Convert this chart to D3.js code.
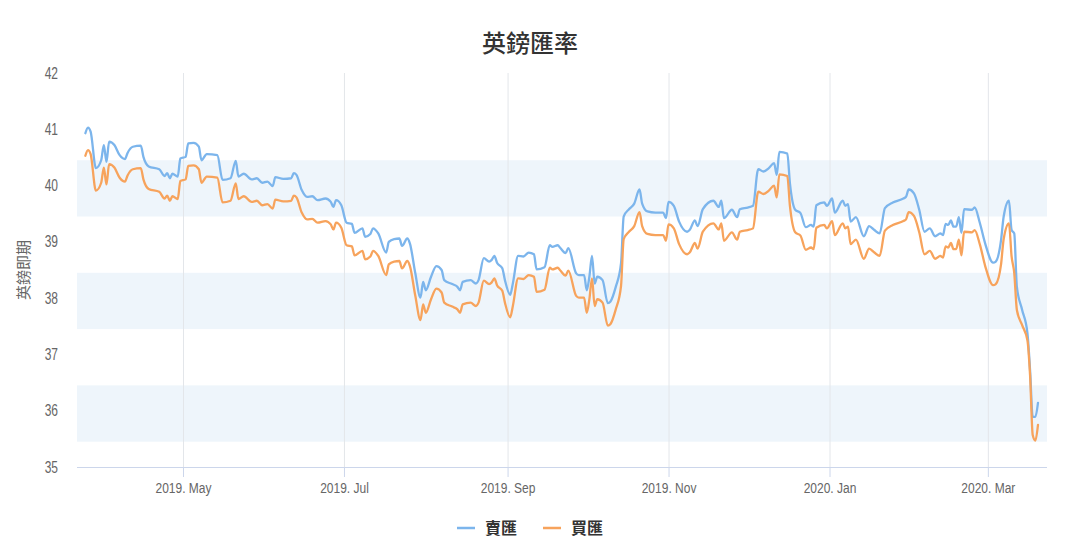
<!DOCTYPE html>
<html><head><meta charset="utf-8">
<script src="https://cdn.jsdelivr.net/npm/d3@7"></script>
<style>
body{margin:0;background:#fff}
svg{display:block}
.num{font-family:"Liberation Sans","Arial",sans-serif}
.cjk{font-family:"Noto Sans CJK TC","Noto Sans CJK SC",sans-serif}
</style>
</head><body>
<svg id="c" width="1065" height="556"></svg>
<script>
const title = "英鎊匯率";
const yTitle = "英鎊即期";
const seriesNames = ["賣匯", "買匯"];
const seriesColors = ["#7cb5ec", "#f7a35c"];

const dates = [
"2019-03-25","2019-03-26","2019-03-27","2019-03-29","2019-03-31","2019-04-01","2019-04-02","2019-04-03","2019-04-05","2019-04-07",
"2019-04-09","2019-04-10","2019-04-12","2019-04-15","2019-04-16","2019-04-18","2019-04-22","2019-04-24","2019-04-25","2019-04-26",
"2019-04-27","2019-04-29","2019-04-30","2019-05-02","2019-05-03","2019-05-05","2019-05-07","2019-05-08","2019-05-10","2019-05-14",
"2019-05-16","2019-05-19","2019-05-21","2019-05-22","2019-05-24","2019-05-27","2019-05-29","2019-05-31","2019-06-02","2019-06-04",
"2019-06-05","2019-06-08","2019-06-11","2019-06-12","2019-06-13","2019-06-15","2019-06-17","2019-06-19","2019-06-21","2019-06-24",
"2019-06-26","2019-06-27","2019-06-28","2019-06-30","2019-07-02","2019-07-04","2019-07-05","2019-07-08","2019-07-09","2019-07-11",
"2019-07-12","2019-07-14","2019-07-17","2019-07-18","2019-07-20","2019-07-22","2019-07-23","2019-07-25","2019-07-26","2019-07-28",
"2019-07-30","2019-07-31","2019-08-01","2019-08-03","2019-08-05","2019-08-07","2019-08-08","2019-08-11","2019-08-13","2019-08-14",
"2019-08-15","2019-08-18","2019-08-20","2019-08-21","2019-08-23","2019-08-25","2019-08-26","2019-08-27","2019-08-28","2019-08-30",
"2019-08-31","2019-09-02","2019-09-03","2019-09-05","2019-09-07","2019-09-09","2019-09-11","2019-09-12","2019-09-15","2019-09-17",
"2019-09-18","2019-09-20","2019-09-21","2019-09-23","2019-09-24","2019-09-27","2019-09-28","2019-09-30","2019-10-01","2019-10-02",
"2019-10-03","2019-10-04","2019-10-05","2019-10-07","2019-10-09","2019-10-10","2019-10-12","2019-10-14","2019-10-15","2019-10-17",
"2019-10-19","2019-10-21","2019-10-22","2019-10-24","2019-10-27","2019-10-30","2019-10-31","2019-11-01","2019-11-03","2019-11-05",
"2019-11-08","2019-11-09","2019-11-11","2019-11-12","2019-11-14","2019-11-18","2019-11-20","2019-11-21","2019-11-22","2019-11-25",
"2019-11-27","2019-11-28","2019-12-01","2019-12-03","2019-12-05","2019-12-07","2019-12-09","2019-12-11","2019-12-12","2019-12-13",
"2019-12-16","2019-12-17","2019-12-19","2019-12-21","2019-12-23","2019-12-25","2019-12-26","2019-12-27","2019-12-30","2019-12-31",
"2020-01-02","2020-01-03","2020-01-06","2020-01-07","2020-01-08","2020-01-09","2020-01-11","2020-01-14","2020-01-16","2020-01-18",
"2020-01-20","2020-01-22","2020-01-25","2020-01-29","2020-01-30","2020-01-31","2020-02-02","2020-02-04","2020-02-06","2020-02-08",
"2020-02-10","2020-02-12","2020-02-13","2020-02-14","2020-02-15","2020-02-16","2020-02-17","2020-02-18","2020-02-19","2020-02-20",
"2020-02-21","2020-02-24","2020-02-25","2020-02-27","2020-02-29","2020-03-03","2020-03-04","2020-03-06","2020-03-07","2020-03-09",
"2020-03-10","2020-03-11","2020-03-12","2020-03-14","2020-03-16","2020-03-17","2020-03-18","2020-03-19","2020-03-20"
];

const sellRates = [
40.93,41.03,40.96,40.31,40.45,40.72,40.42,40.78,40.72,40.54,
40.47,40.58,40.69,40.71,40.51,40.34,40.29,40.17,40.22,40.13,
40.21,40.16,40.48,40.51,40.75,40.76,40.69,40.45,40.56,40.54,
40.10,40.13,40.44,40.16,40.21,40.11,40.13,40.05,40.07,39.99,
40.15,40.12,40.13,40.22,40.19,39.92,39.80,39.81,39.74,39.77,
39.71,39.62,39.74,39.65,39.34,39.32,39.16,39.24,39.09,39.14,
39.24,39.15,38.81,39.00,39.05,39.06,38.93,39.06,38.97,38.45,
38.01,38.29,38.14,38.38,38.57,38.50,38.32,38.25,38.20,38.14,
38.29,38.32,38.26,38.32,38.71,38.65,38.68,38.75,38.63,38.53,
38.32,38.06,38.26,38.75,38.74,38.81,38.78,38.51,38.55,38.94,
38.91,38.94,38.89,38.80,38.89,38.44,38.41,38.41,38.14,38.38,
38.75,38.26,38.38,38.32,37.91,37.94,38.20,38.62,39.45,39.58,
39.68,39.93,39.68,39.54,39.52,39.52,39.42,39.71,39.64,39.36,
39.18,39.21,39.38,39.28,39.58,39.73,39.62,39.73,39.42,39.57,
39.44,39.58,39.61,39.64,40.29,40.25,40.31,40.40,40.19,40.60,
40.57,40.04,39.57,39.51,39.26,39.30,39.27,39.65,39.70,39.64,
39.77,39.52,39.73,39.64,39.67,39.36,39.44,39.10,39.28,39.21,
39.15,39.60,39.70,39.77,39.80,39.93,39.86,39.57,39.18,39.24,
39.10,39.15,39.12,39.32,39.30,39.38,39.27,39.27,39.44,39.16,
39.58,39.57,39.61,39.33,38.97,38.63,38.65,39.03,39.45,39.73,
39.21,39.15,38.20,37.79,37.38,36.72,35.89,35.89,36.14
];

const buyRates = [
40.53,40.63,40.56,39.91,40.05,40.32,40.02,40.38,40.32,40.14,
40.07,40.18,40.29,40.31,40.11,39.94,39.89,39.77,39.82,39.73,
39.81,39.76,40.08,40.11,40.35,40.36,40.29,40.05,40.16,40.14,
39.70,39.73,40.04,39.76,39.81,39.71,39.73,39.65,39.67,39.59,
39.75,39.72,39.73,39.82,39.79,39.52,39.40,39.41,39.34,39.37,
39.31,39.22,39.34,39.25,38.94,38.92,38.76,38.84,38.69,38.74,
38.84,38.75,38.41,38.60,38.65,38.66,38.53,38.66,38.57,38.05,
37.61,37.89,37.74,37.98,38.17,38.10,37.92,37.85,37.80,37.74,
37.89,37.92,37.86,37.92,38.31,38.25,38.28,38.35,38.23,38.13,
37.92,37.66,37.86,38.35,38.34,38.41,38.38,38.11,38.15,38.54,
38.51,38.54,38.49,38.40,38.49,38.04,38.01,38.01,37.74,37.98,
38.35,37.86,37.98,37.92,37.51,37.54,37.80,38.22,39.05,39.18,
39.28,39.53,39.28,39.14,39.12,39.12,39.02,39.31,39.24,38.96,
38.78,38.81,38.98,38.88,39.18,39.33,39.22,39.33,39.02,39.17,
39.04,39.18,39.21,39.24,39.89,39.85,39.91,40.00,39.79,40.20,
40.17,39.64,39.17,39.11,38.86,38.90,38.87,39.25,39.30,39.24,
39.37,39.12,39.33,39.24,39.27,38.96,39.04,38.70,38.88,38.81,
38.75,39.20,39.30,39.37,39.40,39.53,39.46,39.17,38.78,38.84,
38.70,38.75,38.72,38.92,38.90,38.98,38.87,38.87,39.04,38.76,
39.18,39.17,39.21,38.95,38.57,38.23,38.25,38.60,39.05,39.33,
38.74,38.45,37.79,37.52,37.25,36.63,35.57,35.47,35.75
];

const yTicks = [35, 36, 37, 38, 39, 40, 41, 42];
const xTickDates = ["2019-05-01","2019-07-01","2019-09-01","2019-11-01","2020-01-01","2020-03-01"];
const xTickLabels = ["2019. May","2019. Jul","2019. Sep","2019. Nov","2020. Jan","2020. Mar"];
const bandRanges = [[35.45, 36.45], [37.45, 38.45], [39.45, 40.45]];
const xDomain = ["2019-03-21T20:00:00Z", "2020-03-23T10:00:00Z"];

const svg = d3.select("#c");
const W = 1065, H = 556;
const m = {left: 77, right: 1047, top: 73, bottom: 467};
const parse = d3.utcParse("%Y-%m-%d");

const x = d3.scaleUtc().domain(xDomain.map(s => new Date(s))).range([m.left, m.right]);
const y = d3.scaleLinear().domain([35, 42]).range([m.bottom, m.top]);

svg.append("rect").attr("width", W).attr("height", H).attr("fill", "#fff");

// bands
svg.append("g").selectAll("rect").data(bandRanges).join("rect")
  .attr("x", m.left).attr("width", m.right - m.left)
  .attr("y", d => y(d[1])).attr("height", d => y(d[0]) - y(d[1]))
  .attr("fill", "#eef5fb");

// x axis with grid
const tickDates = xTickDates.map(parse);
const xAxis = d3.axisBottom(x).tickValues(tickDates)
  .tickFormat((d, i) => xTickLabels[i]).tickSizeInner(-(m.bottom - m.top)).tickSizeOuter(0).tickPadding(0);
const gx = svg.append("g").attr("transform", `translate(0,${m.bottom})`).call(xAxis);
gx.select(".domain").remove();
gx.selectAll(".tick line").attr("stroke", "#e3e6ea").attr("stroke-width", 1);
gx.selectAll(".tick").append("line").attr("y1", 0).attr("y2", 10).attr("stroke", "#ccd6eb");
gx.selectAll(".tick text").attr("class", "num").attr("fill", "#666").attr("font-size", 15)
  .attr("y", 0).attr("dy", 0).attr("transform", "translate(0,26) scale(0.8,1)");
svg.append("line").attr("x1", m.left).attr("x2", m.right).attr("y1", m.bottom + 0.5).attr("y2", m.bottom + 0.5)
  .attr("stroke", "#ccd6eb").attr("stroke-width", 1);

// y axis labels
const yAxis = d3.axisLeft(y).tickValues(yTicks).tickFormat(d3.format("d")).tickSize(0).tickPadding(0);
const gy = svg.append("g").attr("transform", `translate(58,0)`).call(yAxis);
gy.select(".domain").remove();
gy.selectAll(".tick text").attr("class", "num").attr("fill", "#666").attr("font-size", 16)
  .attr("x", 0).attr("transform", "scale(0.75,1)");

// y title
svg.append("text").attr("class", "cjk")
  .attr("transform", `translate(24,${(m.top + m.bottom) / 2}) rotate(-90)`)
  .attr("text-anchor", "middle").attr("dy", "0.35em").attr("fill", "#666").attr("font-size", 15)
  .text(yTitle);

// lines
const line = d3.line().x((d, i) => x(parse(dates[i]))).y(d => y(d)).curve(d3.curveMonotoneX);
[sellRates, buyRates].forEach((s, k) => {
  svg.append("path").datum(s).attr("d", line).attr("fill", "none")
    .attr("stroke", seriesColors[k]).attr("stroke-width", 2.3)
    .attr("stroke-linejoin", "round").attr("stroke-linecap", "round");
});

// title
svg.append("text").attr("class", "cjk").attr("x", 530).attr("y", 52)
  .attr("text-anchor", "middle").attr("fill", "#333").attr("font-size", 24).attr("font-weight", 500)
  .text(title);

// legend
const legendPos = [457, 543];
seriesNames.forEach((n, k) => {
  const g = svg.append("g").attr("transform", `translate(${legendPos[k]},528)`);
  g.append("line").attr("x1", 0).attr("x2", 18).attr("stroke", seriesColors[k]).attr("stroke-width", 2.5);
  g.append("text").attr("class", "cjk").attr("x", 28).attr("dy", "0.35em")
    .attr("fill", "#333").attr("font-size", 16).attr("font-weight", "bold").text(n);
});
</script>
</body></html>
